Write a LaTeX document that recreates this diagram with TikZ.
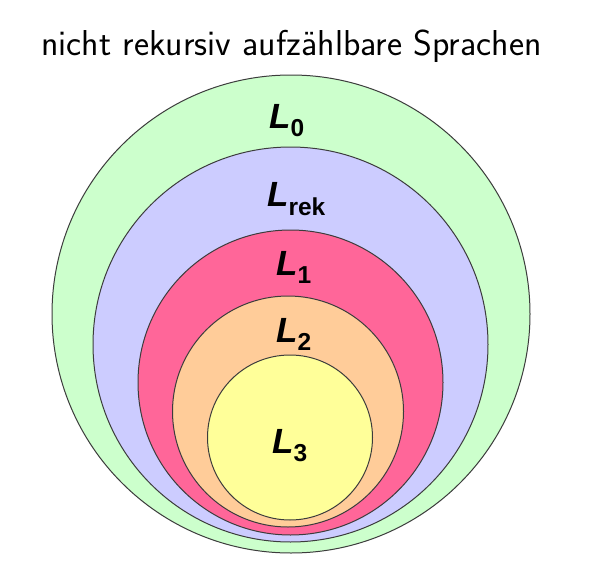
\documentclass[tikz,border=0pt]{standalone}
\usepackage{fontspec}
\newfontfamily\labfont{Liberation Sans}
\usepackage{tikz}
\definecolor{cgreen}{RGB}{204,255,204}
\definecolor{cblue}{RGB}{204,204,255}
\definecolor{cpink}{RGB}{255,102,153}
\definecolor{corange}{RGB}{255,204,153}
\definecolor{cyellow}{RGB}{255,255,153}
\definecolor{cline}{RGB}{60,60,60}
\tikzset{
  langset/.style={draw=cline, line width=1pt},
  lab/.style={font=\labfont\fontsize{35}{40}\selectfont\bfseries\itshape, inner sep=0pt, anchor=base west},
}
\begin{document}
\begin{tikzpicture}[x=1pt,y=-1pt]
\useasboundingbox[fill=white] (0,0) rectangle (603,562);
\node[font=\sffamily\fontsize{36}{42}\selectfont, anchor=base, inner sep=0pt] (title) at (291.5,55) {nicht rekursiv aufzählbare Sprachen};
\draw[langset, fill=cgreen] (291,314) circle [radius=239];
\draw[langset, fill=cblue] (290.5,344.5) circle [radius=197.5];
\draw[langset, fill=cpink] (290.5,382.5) circle [radius=152.5];
\draw[langset, fill=corange] (288,411.5) circle [radius=115.5];
\draw[langset, fill=cyellow] (290,437.5) circle [radius=82.5];
\node[lab] (l0) at (269,128) {L\textsubscript{\upshape 0}};
\node[lab] (lrek) at (267,206) {L\textsubscript{\upshape rek}};
\node[lab] (l1) at (276,275) {L\textsubscript{\upshape 1}};
\node[lab] (l2) at (276,342) {L\textsubscript{\upshape 2}};
\node[lab] (l3) at (272,453) {L\textsubscript{\upshape 3}};
\end{tikzpicture}
\end{document}
